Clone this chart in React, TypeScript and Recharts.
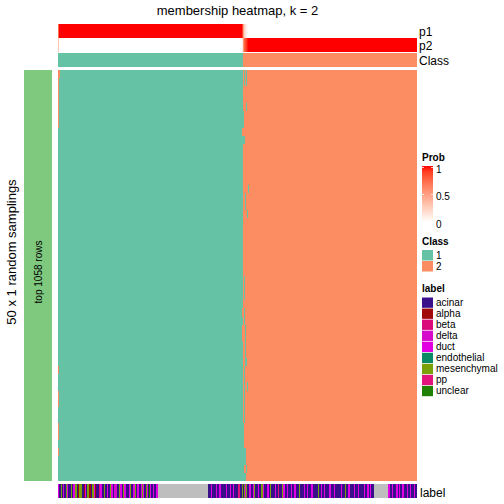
import React from 'react';
import { ComposedChart, XAxis, YAxis, ReferenceArea } from 'recharts';

const TITLE = 'membership heatmap, k = 2';
const ROW_TITLE = '50 x 1 random samplings';
const ROW_GROUP = 'top 1058 rows';
const N_ROWS = 50;

const CLASS_NAMES = ['1', '2'];
const CLASS_COLORS = ['#66C2A5', '#FC8D62'];
const ROW_GROUP_COLOR = '#7FC97F';

const LABEL_NAMES = ['acinar', 'alpha', 'beta', 'delta', 'duct', 'endothelial', 'mesenchymal', 'pp', 'unclear'];
const LABEL_CODES = ['A', 'L', 'B', 'D', 'U', 'E', 'M', 'P', 'X'];
const LABEL_COLORS = ['#3A0F8A', '#A00A0A', '#DA0A7A', '#D60ACA', '#E200E2', '#0A8A64', '#7AA00A', '#E0147C', '#208000'];
const NA_COLOR = '#BEBEBE';

// sample labels, run-length encoded left to right (N = NA)
const labelRuns: [string, number][] = [
  ['U', 1], ['A', 2], ['M', 1], ['A', 1], ['D', 1], ['A', 2], ['M', 1], ['U', 1], ['A', 3], ['M', 1],
  ['A', 1], ['U', 2], ['M', 2], ['A', 1], ['L', 1], ['M', 3], ['A', 2], ['L', 1], ['U', 1], ['A', 1],
  ['M', 2], ['L', 2], ['A', 1], ['M', 2], ['U', 1], ['L', 1], ['A', 3], ['B', 1], ['U', 2], ['A', 2],
  ['M', 1], ['A', 2], ['U', 1], ['A', 2], ['M', 1], ['U', 2], ['A', 1], ['D', 3], ['A', 2], ['M', 1],
  ['U', 2], ['A', 1], ['M', 1], ['U', 2], ['A', 3], ['U', 1], ['M', 1], ['A', 2], ['U', 2], ['M', 1],
  ['A', 1], ['U', 2], ['A', 2], ['U', 1], ['M', 1], ['U', 1], ['A', 2], ['M', 1], ['U', 1], ['A', 1],
  ['X', 1], ['U', 1], ['A', 2], ['U', 1], ['A', 2], ['U', 2],
  ['N', 50],
  ['A', 3], ['U', 1], ['A', 4], ['U', 1], ['A', 2], ['U', 2], ['A', 5], ['U', 1], ['A', 3], ['U', 1],
  ['A', 2], ['U', 1], ['A', 4], ['P', 2], ['A', 2],
  ['M', 1], ['A', 1], ['M', 1], ['U', 1], ['M', 1], ['A', 2],
  ['U', 2], ['A', 2], ['U', 1], ['M', 1], ['A', 3], ['U', 1], ['A', 2],
  ['M', 2], ['U', 1], ['A', 3], ['U', 2], ['A', 1],
  ['M', 1], ['A', 4], ['U', 1], ['A', 2], ['P', 1], ['A', 3],
  ['M', 1], ['U', 2], ['A', 2], ['U', 1], ['A', 3], ['U', 1], ['A', 2],
  ['U', 2], ['A', 3], ['M', 1], ['A', 4], ['U', 1], ['A', 2],
  ['U', 1], ['A', 3], ['U', 2], ['A', 5], ['M', 1], ['A', 2],
  ['U', 1], ['A', 2], ['U', 1], ['A', 4], ['U', 2], ['A', 3],
  ['U', 1], ['A', 6], ['U', 1], ['A', 3], ['M', 1], ['A', 2],
  ['U', 2], ['A', 4], ['U', 1], ['A', 3], ['U', 1], ['A', 5], ['U', 1], ['A', 2], ['U', 2], ['A', 1],
  ['U', 1], ['A', 3],
  ['N', 14],
  ['U', 2], ['A', 2], ['U', 1], ['A', 3], ['U', 2], ['A', 1], ['U', 1], ['A', 2], ['U', 2], ['A', 3],
  ['U', 1], ['A', 2], ['U', 1], ['A', 3], ['U', 1], ['A', 2],
];

// membership probability of class 1 per sample, run-length encoded
const p1Runs: [number, number][] = [
  [0.7, 1], [1, 183], [0.9, 1], [0.45, 1], [0.25, 1], [0.15, 1], [0.08, 1], [0.03, 1], [0, 169],
];

// per sampling: number of leading samples assigned to class 1
const rowBoundary = [
  185, 185, 185, 185, 185, 186, 186, 184, 187, 185,
  185, 185, 185, 185, 185, 185, 185, 185, 185, 185,
  185, 185, 185, 185, 185, 185, 185, 185, 185, 184,
  185, 184, 184, 185, 185, 185, 185, 185, 185, 185,
  185, 185, 185, 186, 186, 186, 188, 188, 186, 188,
];
// [row, first sample, count] flipped to class 1 inside the class 2 block
const class1Strays: [number, number, number][] = [
  [0, 186, 1], [0, 188, 1], [1, 186, 1], [1, 188, 1], [4, 188, 1], [14, 190, 1], [15, 187, 1],
  [16, 187, 1], [17, 189, 1], [25, 186, 1], [26, 186, 1], [27, 186, 1], [29, 186, 1], [30, 186, 1],
  [31, 187, 1], [32, 187, 1], [33, 187, 1], [34, 187, 1], [35, 187, 2], [36, 186, 1], [37, 186, 1],
  [38, 186, 1], [38, 189, 1], [39, 186, 1], [40, 186, 1], [41, 186, 1], [42, 186, 1], [48, 188, 1],
];
// [row, first sample, count] flipped to class 2 inside the class 1 block
const class2Strays: [number, number, number][] = [
  [0, 0, 2], [1, 0, 1], [2, 0, 1], [3, 0, 1], [4, 0, 1], [5, 0, 1], [6, 0, 1],
  [36, 0, 1], [39, 0, 1], [40, 0, 1], [43, 0, 1], [44, 0, 1], [46, 0, 1],
];

const PROB_TICKS = [1, 0.5, 0];

// white -> red ramp interpolated in Lab, like circlize::colorRamp2
const toLin = (c: number) => { c /= 255; return c <= 0.04045 ? c / 12.92 : Math.pow((c + 0.055) / 1.055, 2.4); };
const toSrgb = (c: number) => { c = Math.max(0, Math.min(1, c)); return 255 * (c <= 0.0031308 ? 12.92 * c : 1.055 * Math.pow(c, 1 / 2.4) - 0.055); };
const fLab = (t: number) => (t > 0.008856 ? Math.cbrt(t) : 7.787 * t + 16 / 116);
const fInv = (t: number) => (t > 0.206893 ? t * t * t : (t - 16 / 116) / 7.787);
const rgbToLab = (r: number, g: number, b: number) => {
  const R = toLin(r), G = toLin(g), B = toLin(b);
  const X = (0.4124 * R + 0.3576 * G + 0.1805 * B) / 0.95047;
  const Y = 0.2126 * R + 0.7152 * G + 0.0722 * B;
  const Z = (0.0193 * R + 0.1192 * G + 0.9505 * B) / 1.08883;
  const fx = fLab(X), fy = fLab(Y), fz = fLab(Z);
  return [116 * fy - 16, 500 * (fx - fy), 200 * (fy - fz)];
};
const labToHex = (L: number, a: number, b: number) => {
  const fy = (L + 16) / 116, fx = fy + a / 500, fz = fy - b / 200;
  const X = fInv(fx) * 0.95047, Y = fInv(fy), Z = fInv(fz) * 1.08883;
  const R = 3.2406 * X - 1.5372 * Y - 0.4986 * Z;
  const G = -0.9689 * X + 1.8758 * Y + 0.0415 * Z;
  const B = 0.0557 * X - 0.204 * Y + 1.057 * Z;
  return '#' + [R, G, B].map((c) => Math.round(toSrgb(c)).toString(16).padStart(2, '0')).join('');
};
const LAB_WHITE = rgbToLab(255, 255, 255);
const LAB_RED = rgbToLab(255, 0, 0);
const probColor = (p: number) =>
  labToHex(...(LAB_WHITE.map((w, i) => w + (LAB_RED[i] - w) * p) as [number, number, number]));

type Tile = { x1: number; x2: number; y1: number; y2: number; fill: string };

const nCols = labelRuns.reduce((s, r) => s + r[1], 0);

const expand = <T,>(runs: [T, number][]) => {
  let x = 0;
  return runs.map(([v, n]) => { const seg = { v, x1: x, x2: x + n }; x += n; return seg; });
};

const probTiles: Tile[] = expand(p1Runs).flatMap((s) => [
  { x1: s.x1, x2: s.x2, y1: 0, y2: 1, fill: probColor(s.v) },
  { x1: s.x1, x2: s.x2, y1: 1, y2: 2, fill: probColor(1 - s.v) },
]);
const classTiles: Tile[] = expand(p1Runs).map((s) => ({
  x1: s.x1, x2: s.x2, y1: 0, y2: 1, fill: CLASS_COLORS[s.v >= 0.5 ? 0 : 1],
}));
const labelTiles: Tile[] = expand(labelRuns).map((s) => ({
  x1: s.x1, x2: s.x2, y1: 0, y2: 1,
  fill: s.v === 'N' ? NA_COLOR : LABEL_COLORS[LABEL_CODES.indexOf(s.v)],
}));
const heatTiles: Tile[] = [
  ...rowBoundary.flatMap((b, r) => [
    { x1: 0, x2: b, y1: r, y2: r + 1, fill: CLASS_COLORS[0] },
    { x1: b, x2: nCols, y1: r, y2: r + 1, fill: CLASS_COLORS[1] },
  ]),
  ...class1Strays.map(([r, c, n]) => ({ x1: c, x2: c + n, y1: r, y2: r + 1, fill: CLASS_COLORS[0] })),
  ...class2Strays.map(([r, c, n]) => ({ x1: c, x2: c + n, y1: r, y2: r + 1, fill: CLASS_COLORS[1] })),
];
const groupTiles: Tile[] = [{ x1: 0, x2: 1, y1: 0, y2: 1, fill: ROW_GROUP_COLOR }];

const TileChart = ({ left, top, width, height, cols, rows, tiles }: {
  left: number; top: number; width: number; height: number; cols: number; rows: number; tiles: Tile[];
}) => (
  <div style={{ position: 'absolute', left, top, width, height }}>
    <ComposedChart width={width} height={height} margin={{ top: 0, right: 0, bottom: 0, left: 0 }}>
      <XAxis type="number" dataKey="x" domain={[0, cols]} hide allowDataOverflow />
      <YAxis type="number" domain={[0, rows]} hide reversed allowDataOverflow />
      {tiles.map((t, i) => (
        <ReferenceArea key={i} x1={t.x1} x2={t.x2} y1={t.y1} y2={t.y2} fill={t.fill} fillOpacity={1}
          stroke="none" shapeRendering="crispEdges" isAnimationActive={false} />
      ))}
    </ComposedChart>
  </div>
);

const FONT = '"Liberation Sans", Arial, Helvetica, sans-serif';
const HX = 58;
const HW = 359;

export default function App() {
  const gradStops = Array.from({ length: 11 }, (_, i) => i / 10);
  return (
    <div style={{ position: 'absolute', left: 0, top: 0, width: 504, height: 504, background: '#fff', fontFamily: FONT }}>
      <TileChart left={HX} top={24} width={HW} height={28} cols={nCols} rows={2} tiles={probTiles} />
      <TileChart left={HX} top={53} width={HW} height={14} cols={nCols} rows={1} tiles={classTiles} />
      <TileChart left={HX} top={70} width={HW} height={411} cols={nCols} rows={N_ROWS} tiles={heatTiles} />
      <TileChart left={24} top={70} width={28} height={411} cols={1} rows={1} tiles={groupTiles} />
      <TileChart left={HX} top={484} width={HW} height={14} cols={nCols} rows={1} tiles={labelTiles} />
      <svg width={504} height={504} style={{ position: 'absolute', left: 0, top: 0, pointerEvents: 'none' }}
        fontFamily={FONT}>
        <defs>
          <linearGradient id="probGrad" x1="0" y1="1" x2="0" y2="0">
            {gradStops.map((p) => <stop key={p} offset={p} stopColor={probColor(p)} />)}
          </linearGradient>
        </defs>
        <text x={HX + HW / 2} y={15} fontSize={13} textAnchor="middle">{TITLE}</text>
        <text x={419} y={36} fontSize={12}>p1</text>
        <text x={419} y={50} fontSize={12}>p2</text>
        <text x={419} y={64.5} fontSize={12}>Class</text>
        <text x={420} y={496.5} fontSize={12}>label</text>
        <text transform="translate(16,252) rotate(-90)" fontSize={13} textAnchor="middle">{ROW_TITLE}</text>
        <text transform="translate(41.5,272) rotate(-90)" fontSize={10} textAnchor="middle">{ROW_GROUP}</text>

        <text x={422} y={161} fontSize={10} fontWeight="bold">Prob</text>
        <rect x={422} y={166} width={11} height={56} fill="url(#probGrad)" />
        {PROB_TICKS.slice(0, 2).map((t) => {
          const y = 222 - (t * 54) - 0.5;
          return (
            <g key={t}>
              <line x1={422} x2={424} y1={y} y2={y} stroke="#fff" strokeWidth={0.8} />
              <line x1={431} x2={433} y1={y} y2={y} stroke="#fff" strokeWidth={0.8} />
            </g>
          );
        })}
        {PROB_TICKS.map((t) => (
          <text key={t} x={436} y={t === 1 ? 172.5 : t === 0.5 ? 200 : 228} fontSize={10}>{String(t)}</text>
        ))}

        <text x={422} y={245} fontSize={10} fontWeight="bold">Class</text>
        {CLASS_NAMES.map((c, i) => (
          <g key={c}>
            <rect x={422} y={250 + i * 11} width={11} height={10.5} fill={CLASS_COLORS[i]} />
            <text x={436} y={258.5 + i * 11} fontSize={10}>{c}</text>
          </g>
        ))}

        <text x={422} y={291.5} fontSize={10} fontWeight="bold">label</text>
        {LABEL_NAMES.map((n, i) => (
          <g key={n}>
            <rect x={422} y={297.5 + i * 11.05} width={11} height={10.3} fill={LABEL_COLORS[i]} />
            <text x={436} y={306 + i * 11.05} fontSize={10}>{n}</text>
          </g>
        ))}
      </svg>
    </div>
  );
}
